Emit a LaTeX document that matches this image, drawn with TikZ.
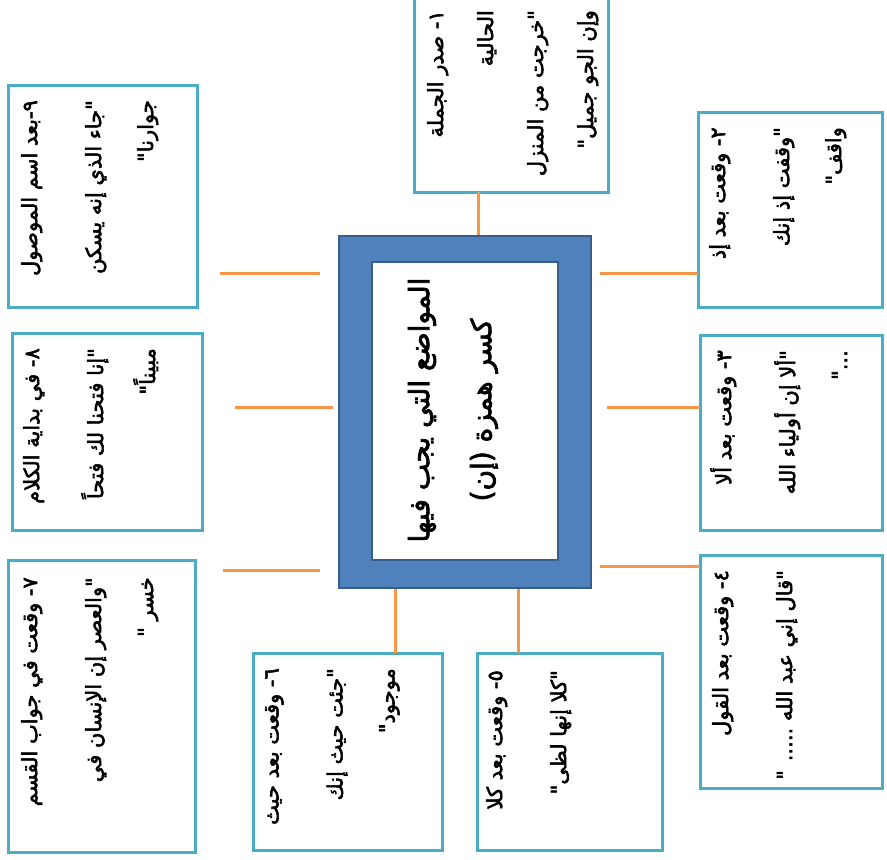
\documentclass[tikz,border=0pt]{standalone}
\usepackage{fontspec}
\newfontfamily\arabicfont[Script=Arabic,FakeBold=2.5]{DejaVu Sans}
\TeXXeTstate=1
\newcommand\AR[1]{\beginR #1\endR}
\definecolor{boxblue}{HTML}{4BACC6}
\definecolor{conorange}{HTML}{F79646}
\definecolor{midblue}{HTML}{4F81BD}
\definecolor{darkblue}{HTML}{385D8A}
\tikzset{
  boxnode/.style={draw=boxblue,line width=3pt,fill=white,inner sep=0pt,outer sep=0pt},
  conn/.style={draw=conorange,line width=3pt},
  txt/.style={rotate=90,anchor=north east,align=right,inner sep=0pt,
    font=\arabicfont\fontsize{21}{52}\selectfont},
}
\begin{document}
\begin{tikzpicture}[x=1pt,y=-1pt]
\useasboundingbox (0,0) rectangle (887,860);
% center box
\node[fill=midblue,draw=darkblue,line width=2pt,minimum width=252pt,minimum height=352pt,inner sep=0pt] (cb) at (465,411.5) {};
\node[fill=white,draw=darkblue,line width=2pt,minimum width=186pt,minimum height=298pt,inner sep=0pt] (ci) at (465,411) {};
\node[rotate=90,align=center,inner sep=0pt,font=\arabicfont\fontsize{28}{62}\selectfont] (ct) at (453,410)
  {\AR{المواضع التي يجب فيها}\\ \AR{كسر همزة (إن)}};
% boxes
\node[boxnode,minimum width=194pt,minimum height=200pt] (b1) at (511,92) {};
\node[boxnode,minimum width=184pt,minimum height=195pt] (b2) at (790,209.5) {};
\node[boxnode,minimum width=182pt,minimum height=195pt] (b3) at (791,432.5) {};
\node[boxnode,minimum width=182pt,minimum height=233pt] (b4) at (791,671.5) {};
\node[boxnode,minimum width=185pt,minimum height=197pt] (b5) at (569.5,751.5) {};
\node[boxnode,minimum width=189pt,minimum height=197pt] (b6) at (347.5,751.5) {};
\node[boxnode,minimum width=187pt,minimum height=292pt] (b7) at (101.5,706) {};
\node[boxnode,minimum width=190pt,minimum height=197pt] (b8) at (107,431.5) {};
\node[boxnode,minimum width=189pt,minimum height=222pt] (b9) at (102.5,196) {};
% texts
\node[txt,font=\arabicfont\fontsize{21}{50}\selectfont] (t1) at (427,10)
  {\AR{١- صدر الجملة}\\ \AR{الحالية}\\ \AR{"خرجت من المنزل}\\ \AR{وإن الجو جميل"}};
\node[txt] (t2) at (709,127)
  {\AR{٢- وقعت بعد إذ}\\[12pt] \AR{"وقفت إذ إنك}\\ \AR{واقف"}};
\node[txt] (t3) at (710,350)
  {\AR{٣- وقعت بعد ألا}\\[12pt] \AR{"ألا إن أولياء الله}\\ \AR{..."}};
\node[txt] (t4) at (712,570)
  {\AR{٤- وقعت بعد القول}\\[12pt] \AR{"قال إني عبد الله ..... "}};
\node[txt] (t5) at (486,670)
  {\AR{٥- وقعت بعد كلا}\\[12pt] \AR{"كلا إنها لظى"}};
\node[txt] (t6) at (265,668)
  {\AR{٦- وقعت بعد حيث}\\[12pt] \AR{"جئت حيث إنك}\\ \AR{موجود"}};
\node[txt] (t7) at (21,577)
  {\AR{٧- وقعت في جواب القسم}\\[12pt] \AR{"والعصر إن الإنسان في}\\ \AR{خسر "}};
\node[txt] (t8) at (23,348)
  {\AR{٨- في بداية الكلام}\\[12pt] \AR{"إنا فتحنا لك فتحاً}\\ \AR{مبيناً"}};
\node[txt] (t9) at (21,100)
  {\AR{٩-بعد اسم الموصول}\\[12pt] \AR{"جاء الذي إنه يسكن}\\ \AR{جوارنا"}};
% connector ends
\coordinate (k1) at (478,0);
\coordinate (k2) at (600,273);
\coordinate (k3) at (607,407);
\coordinate (k4) at (600,566);
\coordinate (k5) at (518,0);
\coordinate (k6) at (395,0);
\coordinate (l9a) at (220,273); \coordinate (l9b) at (320,273);
\coordinate (l8a) at (235,407); \coordinate (l8b) at (333,407);
\coordinate (l7a) at (223,570); \coordinate (l7b) at (320,570);
% connectors
\draw[conn] (b1.south -| k1) -- (cb.north -| k1);
\draw[conn] (k2) -- (b2.west |- k2);
\draw[conn] (k3) -- (b3.west |- k3);
\draw[conn] (k4) -- (b4.west |- k4);
\draw[conn] (cb.south -| k5) -- (b5.north -| k5);
\draw[conn] (cb.south -| k6) -- (b6.north -| k6);
\draw[conn] (l9a) -- (l9b);
\draw[conn] (l8a) -- (l8b);
\draw[conn] (l7a) -- (l7b);
\end{tikzpicture}
\end{document}
